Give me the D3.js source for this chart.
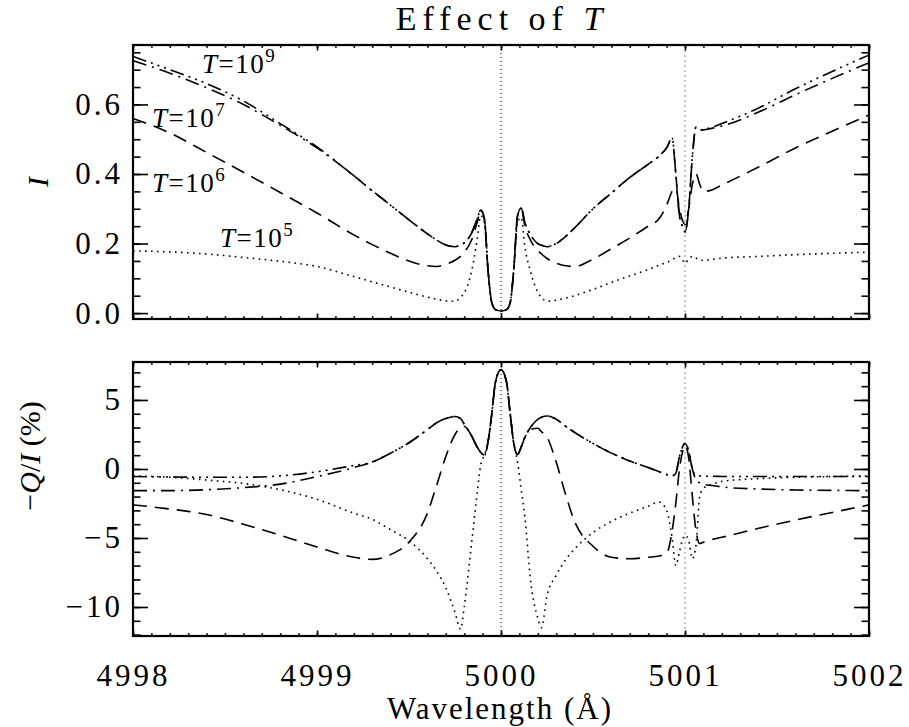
<!DOCTYPE html>
<html>
<head>
<meta charset="utf-8">
<script src="https://cdn.jsdelivr.net/npm/d3@7"></script>
<style>
  body { margin: 0; background: #fff; }
  svg text { font-family: "Liberation Serif", "Times New Roman", serif; fill: #000; }
</style>
</head>
<body>
<div id="chart"></div>
<script>
// wavelength grid (A)
var wl = [4998.0, 4998.2, 4998.4, 4998.6, 4998.8, 4999.0, 4999.2, 4999.3, 4999.4, 4999.5, 4999.6, 4999.65, 4999.7,
          4999.75, 4999.78, 4999.8, 4999.84, 4999.87, 4999.89, 4999.91, 4999.93, 4999.95, 4999.97, 5000.0, 5000.03, 5000.05, 5000.07, 5000.09, 5000.11, 5000.13, 5000.16, 5000.2, 5000.22, 5000.25,
          5000.3, 5000.35, 5000.4, 5000.5, 5000.6, 5000.7, 5000.8, 5000.86, 5000.9, 5000.93, 5000.95, 5000.97, 5000.99, 5001.0, 5001.02, 5001.04, 5001.06, 5001.08, 5001.1, 5001.15, 5001.2, 5001.4, 5001.6, 5001.8, 5002.0];

// intensity I for each T
var I_T5 = [0.179, 0.176, 0.17, 0.16, 0.149, 0.134, 0.105, 0.09, 0.075, 0.06, 0.046, 0.04, 0.035,
            0.034, 0.045, 0.058, 0.12, 0.21, 0.28, 0.26, 0.12, 0.03, 0.01, 0.006, 0.01, 0.03, 0.13, 0.26, 0.275, 0.19, 0.12, 0.06, 0.045, 0.034,
            0.037, 0.043, 0.05, 0.068, 0.088, 0.107, 0.125, 0.138, 0.146, 0.153, 0.16, 0.163, 0.15, 0.143, 0.155, 0.163, 0.158, 0.152, 0.152, 0.155, 0.158, 0.163, 0.168, 0.172, 0.175];
var I_T6 = [0.56, 0.518, 0.462, 0.405, 0.347, 0.288, 0.225, 0.197, 0.172, 0.15, 0.136, 0.134, 0.14,
            0.152, 0.163, 0.175, 0.21, 0.26, 0.296, 0.27, 0.12, 0.03, 0.01, 0.006, 0.01, 0.03, 0.13, 0.28, 0.302, 0.25, 0.21, 0.18, 0.17, 0.157,
            0.144, 0.136, 0.134, 0.155, 0.185, 0.216, 0.25, 0.272, 0.31, 0.35, 0.36, 0.30, 0.262, 0.255, 0.30, 0.37, 0.40, 0.37, 0.35, 0.355, 0.368, 0.42, 0.475, 0.523, 0.57];
var I_T7 = [0.726, 0.69, 0.648, 0.60, 0.54, 0.475, 0.395, 0.352, 0.31, 0.268, 0.228, 0.21, 0.196,
            0.191, 0.195, 0.202, 0.23, 0.27, 0.296, 0.27, 0.12, 0.03, 0.01, 0.006, 0.01, 0.03, 0.13, 0.28, 0.302, 0.26, 0.225, 0.2, 0.195, 0.191,
            0.2, 0.22, 0.245, 0.3, 0.345, 0.39, 0.428, 0.452, 0.475, 0.503, 0.40, 0.28, 0.245, 0.233, 0.30, 0.45, 0.535, 0.527, 0.527, 0.532, 0.538, 0.578, 0.628, 0.675, 0.72];
var I_T9 = [0.738, 0.70, 0.66, 0.61, 0.545, 0.478, 0.395, 0.352, 0.31, 0.268, 0.228, 0.21, 0.196,
            0.191, 0.195, 0.202, 0.23, 0.27, 0.296, 0.27, 0.12, 0.03, 0.01, 0.006, 0.01, 0.03, 0.13, 0.28, 0.302, 0.26, 0.225, 0.2, 0.195, 0.191,
            0.2, 0.22, 0.245, 0.3, 0.345, 0.39, 0.428, 0.452, 0.475, 0.503, 0.40, 0.28, 0.245, 0.233, 0.30, 0.45, 0.535, 0.527, 0.528, 0.535, 0.545, 0.59, 0.645, 0.695, 0.742];

// -Q/I in percent for each T
var Q_T5 = [-0.5, -0.6, -0.8, -1.05, -1.5, -2.2, -3.2, -3.65, -4.4, -5.2, -6.5, -7.4, -8.6,
            -10.4, -11.6, -10.0, -5.4, -1.8, 0.3, 1.0, 2.0, 4.0, 6.3, 7.2, 6.3, 4.0, 1.8, 0.5, -1.5, -3.5, -8.0, -10.8, -11.5, -9.2,
            -7.7, -6.6, -5.8, -4.6, -3.8, -3.2, -2.7, -2.4, -3.0, -5.0, -7.0, -6.0, -5.0, -4.8, -5.2, -6.5, -5.5, -2.0, -1.4, -1.1, -0.9, -0.7, -0.6, -0.55, -0.5];
var Q_T6 = [-2.6, -2.9, -3.3, -4.0, -4.8, -5.65, -6.4, -6.55, -6.2, -5.3, -3.2, -1.2, 0.9,
            2.5, 3.0, 3.1, 2.4, 1.6, 1.2, 1.0, 2.0, 4.0, 6.3, 7.2, 6.3, 4.0, 1.8, 1.05, 1.6, 2.3, 2.85, 2.95, 2.7, 2.3,
            0.5, -1.8, -3.8, -5.6, -6.4, -6.5, -6.4, -6.3, -6.1, -4.5, -2.5, 0.0, 1.4, 1.7, 0.8, -2.0, -4.5, -5.4, -5.3, -5.1, -4.95, -4.3, -3.7, -3.15, -2.6];
var Q_T7 = [-1.57, -1.57, -1.5, -1.35, -1.1, -0.55, 0.1, 0.5, 1.15, 1.9, 2.85, 3.35, 3.65,
            3.8, 3.65, 3.25, 2.4, 1.6, 1.2, 1.0, 2.0, 4.0, 6.3, 7.2, 6.3, 4.0, 1.8, 1.05, 1.6, 2.3, 3.0, 3.6, 3.75, 3.84,
            3.6, 3.1, 2.65, 1.85, 1.15, 0.58, 0.1, -0.2, -0.4, -0.5, -0.3, 0.9, 1.7, 1.85, 1.3, 0.0, -0.8, -1.0, -1.1, -1.2, -1.3, -1.45, -1.52, -1.55, -1.57];
var Q_T9 = [-0.55, -0.58, -0.6, -0.6, -0.5, -0.2, 0.25, 0.5, 1.15, 1.9, 2.85, 3.35, 3.65,
            3.8, 3.65, 3.25, 2.4, 1.6, 1.2, 1.0, 2.0, 4.0, 6.3, 7.2, 6.3, 4.0, 1.8, 1.05, 1.6, 2.3, 3.0, 3.6, 3.75, 3.84,
            3.6, 3.1, 2.65, 1.85, 1.15, 0.58, 0.1, -0.2, -0.4, -0.5, -0.3, 0.9, 1.7, 1.85, 1.3, 0.0, -0.45, -0.5, -0.52, -0.53, -0.54, -0.55, -0.55, -0.55, -0.55];

var xTicks = [4998, 4999, 5000, 5001, 5002];
var iTicks = [0.0, 0.2, 0.4, 0.6];
var qTicks = [-10, -5, 0, 5];
var lineCenters = [5000, 5001];
var tempExp = ["5", "6", "7", "9"];

var W = 909, H = 727;
var svg = d3.select("#chart").append("svg")
  .attr("width", W).attr("height", H)
  .attr("viewBox", "0 0 " + W + " " + H);

var x = d3.scaleLinear().domain([4998, 5002]).range([133, 869]);
var yI = d3.scaleLinear().domain([-0.017, 0.771]).range([319, 45]);
var yQ = d3.scaleLinear().domain([-12.1, 7.75]).range([636, 362]);

// series styles, IDL linestyles
var styles = {
  T5: "1.6,4.4",
  T6: "14,8",
  T7: "14,6,2,6",
  T9: "14,5,2,5,2,5,2,5"
};

function minorRange(a, b, step) {
  var out = [];
  for (var v = a; v <= b + 1e-9; v += step) out.push(+v.toFixed(4));
  return out;
}

function panel(y, series, yMajor, yMinor, fmt, showX) {
  var top = y.range()[1], bot = y.range()[0];
  var g = svg.append("g");

  // line centre markers
  g.selectAll("line.ctr")
    .data(lineCenters)
    .enter().append("line")
      .attr("x1", function(d) { return x(d); })
      .attr("x2", function(d) { return x(d); })
      .attr("y1", top).attr("y2", bot)
      .attr("stroke", function(d, i) { return i == 0 ? "#000" : "#888"; })
      .attr("stroke-width", 1)
      .attr("stroke-dasharray", function(d, i) { return i == 0 ? "1,3" : "2,3"; });

  var line = d3.line()
    .x(function(d, i) { return x(wl[i]); })
    .y(function(d) { return y(d); })
    .curve(d3.curveMonotoneX);

  series.forEach(function(s) {
    g.append("path")
      .attr("d", line(s.values))
      .attr("fill", "none")
      .attr("stroke", "#000")
      .attr("stroke-width", 1.6)
      .attr("stroke-dasharray", s.dash);
  });

  // y axes, ticks inward
  g.append("g").attr("transform", "translate(133,0)")
    .call(d3.axisLeft(y).tickValues(yMajor).tickSize(-15).tickPadding(10).tickFormat(fmt));
  g.append("g").attr("transform", "translate(133,0)")
    .call(d3.axisLeft(y).tickValues(yMinor).tickSize(-7.5).tickFormat(""));
  g.append("g").attr("transform", "translate(869,0)")
    .call(d3.axisRight(y).tickValues(yMajor).tickSize(-15).tickFormat(""));
  g.append("g").attr("transform", "translate(869,0)")
    .call(d3.axisRight(y).tickValues(yMinor).tickSize(-7.5).tickFormat(""));

  // x axes
  var xMinor = minorRange(4998, 5002, 0.1);
  g.append("g").attr("transform", "translate(0," + top + ")")
    .call(d3.axisTop(x).tickValues(xTicks).tickSize(-5.5).tickFormat(""));
  g.append("g").attr("transform", "translate(0," + top + ")")
    .call(d3.axisTop(x).tickValues(xMinor).tickSize(-2.8).tickFormat(""));
  g.append("g").attr("transform", "translate(0," + bot + ")")
    .call(d3.axisBottom(x).tickValues(xTicks).tickSize(-5.5).tickPadding(28)
      .tickFormat(showX ? d3.format("d") : ""));
  g.append("g").attr("transform", "translate(0," + bot + ")")
    .call(d3.axisBottom(x).tickValues(xMinor).tickSize(-2.8).tickFormat(""));

  g.selectAll(".domain").remove();
  g.selectAll(".tick line").attr("stroke", "#000").attr("stroke-width", 1.6);
  g.selectAll(".tick text")
    .attr("font-size", 31)
    .attr("letter-spacing", 3)
    .attr("fill", "#000");

  g.append("rect")
    .attr("x", 133).attr("y", top)
    .attr("width", 869 - 133).attr("height", bot - top)
    .attr("fill", "none").attr("stroke", "#000").attr("stroke-width", 2.2);
  return g;
}

panel(yI, [
  { values: I_T5, dash: styles.T5 },
  { values: I_T6, dash: styles.T6 },
  { values: I_T7, dash: styles.T7 },
  { values: I_T9, dash: styles.T9 }
], iTicks, minorRange(0, 0.75, 0.05), d3.format(".1f"), false);

panel(yQ, [
  { values: Q_T5, dash: styles.T5 },
  { values: Q_T6, dash: styles.T6 },
  { values: Q_T7, dash: styles.T7 },
  { values: Q_T9, dash: styles.T9 }
], qTicks, minorRange(-12, 7, 1), function(d) { return d < 0 ? "\u2212" + (-d) : d; }, true);

// title
var title = svg.append("text")
  .attr("x", 502).attr("y", 30)
  .attr("text-anchor", "middle")
  .attr("font-size", 34)
  .attr("letter-spacing", 6);
title.append("tspan").text("Effect of ");
title.append("tspan").attr("font-style", "italic").text("T");

// axis titles
svg.append("text")
  .attr("x", 500).attr("y", 719)
  .attr("text-anchor", "middle")
  .attr("font-size", 31)
  .attr("letter-spacing", 2)
  .text("Wavelength (\u00c5)");

svg.append("text")
  .attr("transform", "translate(48,182) rotate(-90)")
  .attr("text-anchor", "middle")
  .attr("font-size", 30)
  .attr("font-style", "italic")
  .text("I");

var ql = svg.append("text")
  .attr("transform", "translate(40,456) rotate(-90)")
  .attr("text-anchor", "middle")
  .attr("font-size", 30);
ql.append("tspan").text("\u2212");
ql.append("tspan").attr("font-style", "italic").text("Q");
ql.append("tspan").text("/");
ql.append("tspan").attr("font-style", "italic").text("I");
ql.append("tspan").text(" (%)");

// temperature labels on the top panel
var labelPos = [[220, 247], [152, 192], [152, 127], [202, 73]];
tempExp.forEach(function(e, i) {
  var t = svg.append("text")
    .attr("x", labelPos[i][0]).attr("y", labelPos[i][1])
    .attr("font-size", 27)
    .attr("letter-spacing", 1.5);
  t.append("tspan").attr("font-style", "italic").text("T");
  t.append("tspan").text("=10");
  t.append("tspan").attr("font-size", 19).attr("dy", -11).text(e);
});
</script>
</body>
</html>
